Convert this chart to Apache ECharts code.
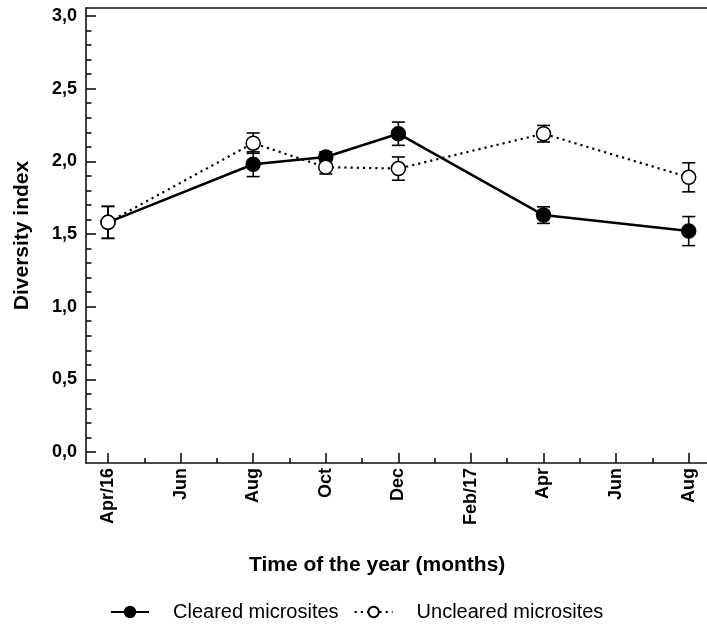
<!DOCTYPE html>
<html>
<head>
<meta charset="utf-8">
<script src="https://cdn.jsdelivr.net/npm/echarts@6/dist/echarts.min.js"></script>
<style>
html, body { margin: 0; padding: 0; background: #fff; }
#chart { width: 707px; height: 626px; }
</style>
</head>
<body>
<div id="chart"></div>
<script>
// Sampling dates, in months counted from April 2016
const sampleMonths = [0, 4, 6, 8, 12, 16];

// Mean diversity index and standard error per sampling date
const clearedMean = [1.58, 1.98, 2.03, 2.19, 1.63, 1.52];
const clearedSE = [0.11, 0.085, 0.035, 0.08, 0.057, 0.10];
const unclearedMean = [1.58, 2.125, 1.96, 1.95, 2.19, 1.89];
const unclearedSE = [0.11, 0.07, 0.047, 0.08, 0.057, 0.10];

// Axis ticks and labels
const monthTicks = [0, 2, 4, 6, 8, 10, 12, 14, 16];
const monthLabels = ['Apr/16', 'Jun', 'Aug', 'Oct', 'Dec', 'Feb/17', 'Apr', 'Jun', 'Aug'];
const monthMinorTicks = [1, 3, 5, 7, 9, 11, 13, 15];
const yTicks = [0, 0.5, 1, 1.5, 2, 2.5, 3];
const yLabels = ['0,0', '0,5', '1,0', '1,5', '2,0', '2,5', '3,0'];
const yMinorTicks = [0.1, 0.2, 0.3, 0.4, 0.6, 0.7, 0.8, 0.9, 1.1, 1.2, 1.3, 1.4,
  1.6, 1.7, 1.8, 1.9, 2.1, 2.2, 2.3, 2.4, 2.6, 2.7, 2.8, 2.9];

const FONT = '"Liberation Sans", Arial, Helvetica, sans-serif';
const X_MIN = -0.606, X_MAX = 16.504;
const Y_MIN = -0.0757, Y_MAX = 3.055;

const points = (means) => sampleMonths.map((m, i) => [m, means[i]]);
const bars = (means, se) => sampleMonths.map((m, i) => [m, means[i] - se[i], means[i] + se[i]]);

function renderErrorBar(params, api) {
  const x = api.value(0);
  const lo = api.coord([x, api.value(1)]);
  const hi = api.coord([x, api.value(2)]);
  const hw = 6.5;
  const style = { stroke: '#000', lineWidth: 1.6, fill: null };
  return {
    type: 'group',
    children: [
      { type: 'line', shape: { x1: lo[0], y1: lo[1], x2: hi[0], y2: hi[1] }, style },
      { type: 'line', shape: { x1: lo[0] - hw, y1: lo[1], x2: lo[0] + hw, y2: lo[1] }, style },
      { type: 'line', shape: { x1: hi[0] - hw, y1: hi[1], x2: hi[0] + hw, y2: hi[1] }, style }
    ]
  };
}

const chart = echarts.init(document.getElementById('chart'), null, { renderer: 'canvas' });

const axisLineStyle = { color: '#111', width: 1.6 };

chart.setOption({
  animation: false,
  backgroundColor: '#fff',
  textStyle: { fontFamily: FONT },
  grid: { left: 86, right: 0, top: 8, bottom: 163, containLabel: false },
  xAxis: [
    {
      type: 'value', min: X_MIN, max: X_MAX, position: 'bottom',
      axisLine: { show: true, onZero: false, lineStyle: axisLineStyle },
      axisTick: { show: true, inside: true, length: 10, customValues: monthTicks, lineStyle: axisLineStyle },
      axisLabel: {
        show: true, customValues: monthTicks, rotate: 90, margin: 5,
        fontFamily: FONT, fontWeight: 'bold', fontSize: 18, color: '#000',
        formatter: (v) => monthLabels[monthTicks.indexOf(Math.round(v))]
      },
      splitLine: { show: false }
    },
    {
      type: 'value', min: X_MIN, max: X_MAX, position: 'bottom',
      axisLine: { show: false, onZero: false },
      axisTick: { show: true, inside: true, length: 5, customValues: monthMinorTicks, lineStyle: axisLineStyle },
      axisLabel: { show: false },
      splitLine: { show: false }
    },
    {
      type: 'value', min: X_MIN, max: X_MAX, position: 'top',
      axisLine: { show: true, onZero: false, lineStyle: axisLineStyle },
      axisTick: { show: false },
      axisLabel: { show: false },
      splitLine: { show: false }
    }
  ],
  yAxis: [
    {
      type: 'value', min: Y_MIN, max: Y_MAX, position: 'left',
      name: 'Diversity index', nameLocation: 'middle', nameGap: 53,
      nameTextStyle: { fontFamily: FONT, fontWeight: 'bold', fontSize: 21, color: '#000' },
      axisLine: { show: true, onZero: false, lineStyle: axisLineStyle },
      axisTick: { show: true, inside: true, length: 10, customValues: yTicks, lineStyle: axisLineStyle },
      axisLabel: {
        show: true, customValues: yTicks, margin: 9,
        fontFamily: FONT, fontWeight: 'bold', fontSize: 18, color: '#000',
        formatter: (v) => yLabels[yTicks.indexOf(Math.round(v * 10) / 10)]
      },
      splitLine: { show: false }
    },
    {
      type: 'value', min: Y_MIN, max: Y_MAX, position: 'left',
      axisLine: { show: false, onZero: false },
      axisTick: { show: true, inside: true, length: 5.5, customValues: yMinorTicks, lineStyle: axisLineStyle },
      axisLabel: { show: false },
      splitLine: { show: false }
    }
  ],
  legend: {
    data: ['Cleared microsites', 'Uncleared microsites'],
    left: 105, top: 597,
    itemWidth: 38, itemHeight: 13, itemGap: 15,
    textStyle: { fontFamily: FONT, fontSize: 20, color: '#000', padding: [0, 0, 0, 19] }
  },
  graphic: [
    {
      type: 'text', left: 249, top: 555,
      style: { text: 'Time of the year (months)', font: 'bold 21px ' + FONT, fill: '#000' }
    }
  ],
  series: [
    {
      type: 'custom', name: 'cleared-se', xAxisIndex: 0, yAxisIndex: 0,
      renderItem: renderErrorBar, encode: { x: 0, y: [1, 2] },
      data: bars(clearedMean, clearedSE), z: 1, silent: true
    },
    {
      type: 'custom', name: 'uncleared-se', xAxisIndex: 0, yAxisIndex: 0,
      renderItem: renderErrorBar, encode: { x: 0, y: [1, 2] },
      data: bars(unclearedMean, unclearedSE), z: 1, silent: true
    },
    {
      type: 'line', name: 'Cleared microsites', xAxisIndex: 0, yAxisIndex: 0,
      data: points(clearedMean), z: 3,
      symbol: 'circle', symbolSize: 14,
      lineStyle: { color: '#000', width: 2.5, type: 'solid' },
      itemStyle: { color: '#000', borderColor: '#000', borderWidth: 1.5 }
    },
    {
      type: 'line', name: 'Uncleared microsites', xAxisIndex: 0, yAxisIndex: 0,
      data: points(unclearedMean), z: 4,
      symbol: 'circle', symbolSize: 14,
      lineStyle: { color: '#000', width: 2.2, type: [2.2, 4], cap: 'butt' },
      itemStyle: { color: '#fff', borderColor: '#000', borderWidth: 1.5 }
    }
  ]
});
</script>
</body>
</html>
